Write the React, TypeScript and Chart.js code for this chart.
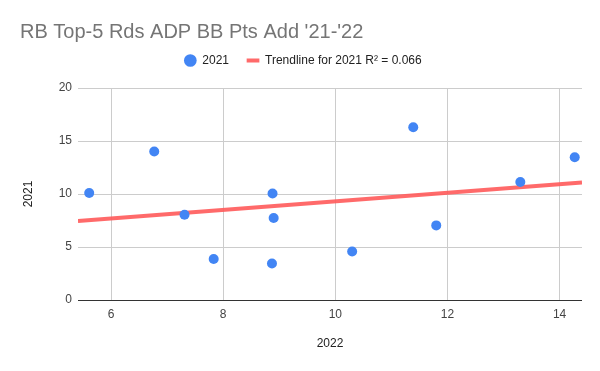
import React, { useEffect, useRef } from 'react';
import { Chart, registerables } from 'chart.js';

Chart.register(...registerables);

const titleText = "RB Top-5 Rds ADP BB Pts Add '21-'22";
const seriesName = '2021';
const trendLabel = 'Trendline for 2021 R² = 0.066';
const xTitle = '2022';
const yTitle = '2021';

const xValues = [5.61, 6.77, 7.31, 7.83, 8.88, 8.9, 8.87, 10.3, 11.39, 11.8, 13.3, 14.27];
const yValues = [10.1, 14.01, 8.05, 3.87, 10.04, 7.74, 3.45, 4.58, 16.3, 7.04, 11.14, 13.47];

const xTicks = [6, 8, 10, 12, 14];
const yTicks = [0, 5, 10, 15, 20];
const xRange = [5.41, 14.4];
const yRange = [0, 20];

const FONT = "'Liberation Sans', Arial, sans-serif";

function regression(xs: number[], ys: number[]) {
  const n = xs.length;
  const mx = xs.reduce((a, b) => a + b, 0) / n;
  const my = ys.reduce((a, b) => a + b, 0) / n;
  let sxy = 0;
  let sxx = 0;
  for (let i = 0; i < n; i++) {
    sxy += (xs[i] - mx) * (ys[i] - my);
    sxx += (xs[i] - mx) * (xs[i] - mx);
  }
  const slope = sxy / sxx;
  return { slope, intercept: my - slope * mx };
}

const legendShift = {
  id: 'legendShift',
  afterLayout(chart: any) {
    const lg = chart.legend;
    if (!lg) return;
    const dy = -11.5;
    const dx = 2;
    lg.top += dy;
    lg.bottom += dy;
    lg.left += dx;
    lg.right += dx;
  },
};

export default function App() {
  const ref = useRef<HTMLCanvasElement | null>(null);

  useEffect(() => {
    const canvas = ref.current;
    if (!canvas) return;
    const { slope, intercept } = regression(xValues, yValues);
    const trend = xRange.map((x) => ({ x, y: slope * x + intercept }));
    const points = xValues.map((x, i) => ({ x, y: yValues[i] }));

    const chart = new Chart(canvas, {
      type: 'scatter',
      data: {
        datasets: [
          {
            label: seriesName,
            data: points,
            backgroundColor: '#4285F4',
            borderColor: '#4285F4',
            borderWidth: 0,
            pointRadius: 5,
            pointHoverRadius: 5,
            pointStyle: 'circle',
            order: 1,
          } as any,
          {
            type: 'line',
            label: trendLabel,
            data: trend,
            borderColor: 'rgba(255, 90, 90, 0.9)',
            backgroundColor: 'rgba(255, 90, 90, 0.9)',
            borderWidth: 4,
            pointRadius: 0,
            pointBorderWidth: 4,
            pointStyle: 'line',
            showLine: true,
            fill: false,
            order: 2,
          } as any,
        ],
      },
      options: {
        animation: false,
        responsive: false,
        maintainAspectRatio: false,
        layout: { padding: { left: 20, right: 18, top: 0, bottom: 0 } },
        plugins: {
          title: {
            display: true,
            text: titleText,
            align: 'start',
            color: '#757575',
            font: { family: FONT, size: 20, weight: 'normal' },
            padding: { top: 20, bottom: 4 },
          },
          legend: {
            display: true,
            position: 'top',
            align: 'center',
            labels: {
              usePointStyle: true,
              boxWidth: 12,
              boxHeight: 9,
              padding: 18,
              color: '#222222',
              font: { family: FONT, size: 12 },
            },
          },
          tooltip: { enabled: false },
        },
        scales: {
          x: {
            type: 'linear',
            min: xRange[0],
            max: xRange[1],
            afterBuildTicks: (scale: any) => {
              scale.ticks = xTicks.map((v) => ({ value: v }));
            },
            afterFit: (scale: any) => {
              scale.height = 71;
            },
            border: { display: false },
            grid: { color: '#cccccc', drawTicks: false, lineWidth: 1 },
            ticks: {
              color: '#444444',
              font: { family: FONT, size: 12 },
              padding: 7,
              maxRotation: 0,
            },
            title: {
              display: true,
              text: xTitle,
              color: '#222222',
              font: { family: FONT, size: 12 },
              padding: { top: 0, bottom: 20 },
            },
          },
          y: {
            type: 'linear',
            min: yRange[0],
            max: yRange[1],
            afterBuildTicks: (scale: any) => {
              scale.ticks = yTicks.map((v) => ({ value: v }));
            },
            afterFit: (scale: any) => {
              scale.width = 58;
            },
            border: { display: false },
            grid: {
              color: (ctx: any) => (ctx.tick && ctx.tick.value === 0 ? '#333333' : '#cccccc'),
              drawTicks: false,
              lineWidth: 1,
            },
            ticks: {
              color: '#444444',
              font: { family: FONT, size: 12 },
              padding: 6,
            },
            title: {
              display: true,
              text: yTitle,
              color: '#222222',
              font: { family: FONT, size: 12 },
              padding: { top: 1, bottom: 0 },
            },
          },
        },
      } as any,
      plugins: [legendShift],
    });
    return () => chart.destroy();
  }, []);

  return (
    <div style={{ position: 'fixed', left: 0, top: 0, width: 600, height: 371, background: '#fff' }}>
      <canvas ref={ref} width={600} height={371} style={{ width: 600, height: 371, display: 'block' }} />
    </div>
  );
}
